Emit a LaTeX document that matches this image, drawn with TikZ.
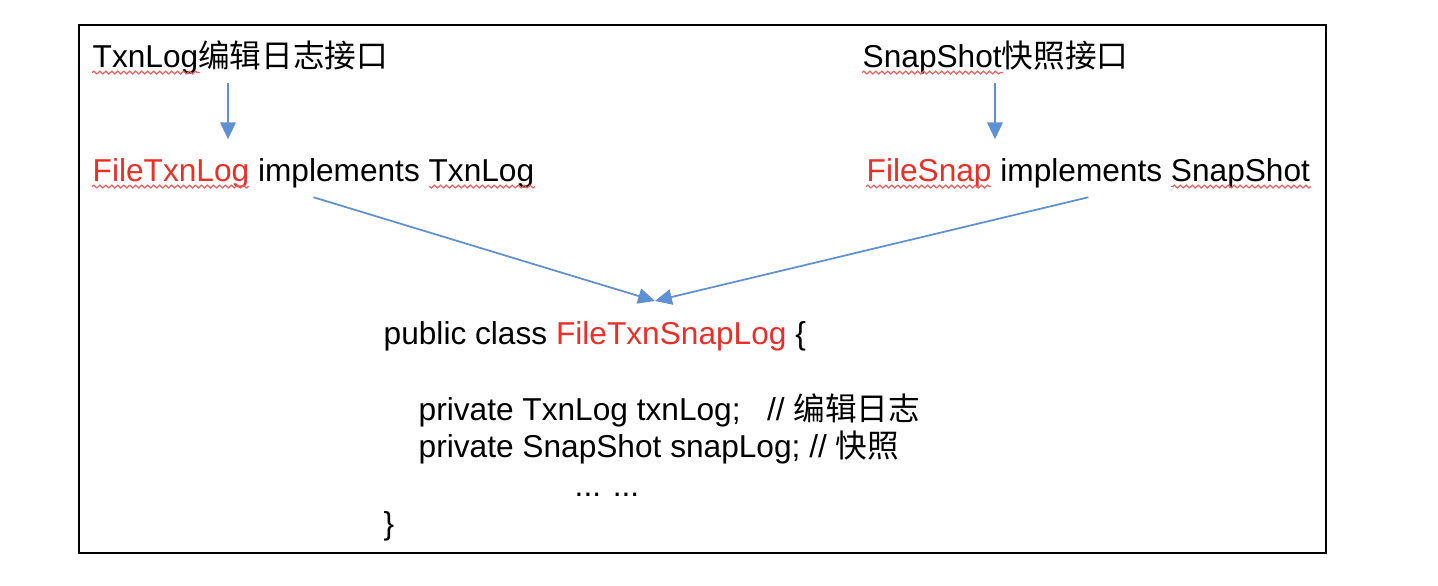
\documentclass[tikz,border=0pt]{standalone}
\usepackage{fontspec}
\setmainfont{Liberation Sans}
\newfontfamily\cjk{Noto Sans CJK SC}
\usetikzlibrary{arrows.meta}
\usetikzlibrary{decorations.pathmorphing}
\definecolor{flowblue}{RGB}{95,145,210}
\definecolor{classred}{RGB}{232,48,40}
\definecolor{spellred}{RGB}{240,95,95}
\tikzset{txt/.style={anchor=base west,inner sep=0pt,font=\fontsize{9}{11}\selectfont},
         flow/.style={draw=flowblue,line width=0.5pt,-{Triangle[length=4.8pt,width=4.4pt]}},
         spell/.style={draw=spellred,line width=0.35pt,decorate,
                       decoration={snake,amplitude=0.4pt,segment length=1.7pt}},
         }

\begin{document}
\begin{tikzpicture}[x=0.01cm,y=-0.01cm]
\useasboundingbox (0,0) rectangle (1438,586);
\draw[line width=0.5pt] (79,25) rectangle (1326,553);
% interfaces
\node[txt] (txnif) at (92,68) {TxnLog{\cjk 编辑日志接口}};
\node[txt] (snapif) at (862,68) {SnapShot{\cjk 快照接口}};
% implementations
\node[txt] (txnimpl) at (92,182) {\textcolor{classred}{FileTxnLog} implements TxnLog};
\node[txt] (snapimpl) at (866,182) {\textcolor{classred}{FileSnap} implements SnapShot};
% the class
\node[txt] (cls) at (383,345) {public class \textcolor{classred}{FileTxnSnapLog} \{};
\node[txt] (txnfield) at (418,421) {private TxnLog txnLog;\ \ \ // {\cjk 编辑日志}};
\node[txt] (snapfield) at (418,458) {private SnapShot snapLog; // {\cjk 快照}};
\node[txt] (more) at (574,497) {... ...};
\node[txt] (close) at (383,535) {\}};
% arrows
\coordinate (txnx) at (228,0);
\coordinate (snapx) at (995,0);
\coordinate (meet) at (655,301);
\draw[flow,shorten <=0.08cm,shorten >=0.19cm] (txnif.south -| txnx) -- (txnimpl.north -| txnx);
\draw[flow,shorten <=0.08cm,shorten >=0.19cm] (snapif.south -| snapx) -- (snapimpl.north -| snapx);
\draw[flow] ([yshift=-0.8mm]txnimpl.south) -- (meet);
\draw[flow] ([yshift=-0.8mm]snapimpl.south) -- (meet);
% spell check marks
\draw[spell] ([yshift=-1.3pt]txnif.base west) -- ++(108,0);
\draw[spell] ([yshift=-1.3pt]txnimpl.base west) -- ++(157,0);
\draw[spell] ([yshift=-1.3pt]txnimpl.base east) -- ++(-106,0);
\draw[spell] ([yshift=-1.3pt]snapif.base west) -- ++(141,0);
\draw[spell] ([yshift=-1.3pt]snapimpl.base west) -- ++(125,0);
\draw[spell] ([yshift=-1.3pt]snapimpl.base east) -- ++(-140,0);
\end{tikzpicture}
\end{document}
